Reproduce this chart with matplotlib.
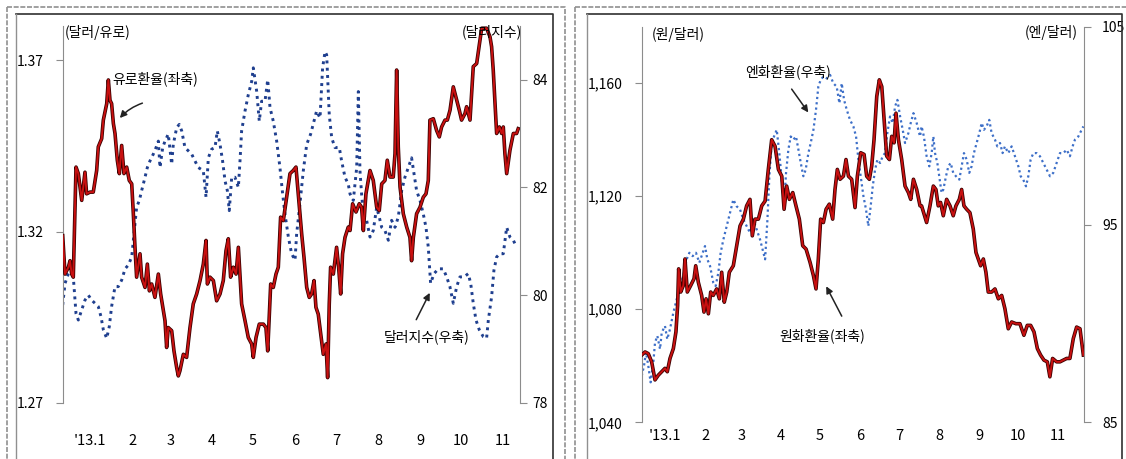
import matplotlib.pyplot as plt
import matplotlib.patheffects as pe
from datetime import date

plt.rcParams['font.family'] = ['Noto Sans CJK KR', 'DejaVu Sans']

# x축: 2013.1.1 기준 경과일
month_labels = ["'13.1", '2', '3', '4', '5', '6', '7', '8', '9', '10', '11']
month_days = [(date(2013, m, 1) - date(2013, 1, 1)).days for m in range(1, 12)]

# 유로환율 (달러/유로, 좌축)
eur_day = [-20.1, -18.4, -15.9, -14.7, -13.5, -12.3, -10.3, -8.6, -6.1, -3.7, -2.5, 0, 2.4, 4.9, 6.1, 8.6, 9.8,
           12.3, 13.5, 14.7, 15.9, 17.2, 18.4, 20.1, 21.6, 23.3, 25.0, 27.0, 28.9, 30.7, 31.9, 33.1, 34.3, 36.8,
           38.0, 40.5, 42.2, 43.7, 45.4, 47.8, 50.3, 52.0, 55.2, 56.4, 57.6, 60.1, 61.8, 63.8, 65.0, 66.2, 68.7,
           71.1, 73.6, 76.0, 78.5, 81.0, 83.4, 85.4, 86.4, 88.3, 90.8, 93.2, 95.7, 98.1, 100.1, 101.8, 103.5,
           105.5, 107.5, 109.2, 111.6, 114.1, 116.5, 119.0, 120.2, 122.2, 124.6, 127.6, 129.5, 130.8, 133.0,
           134.9, 136.9, 138.6, 140.3, 142.3, 144.7, 147.2, 149.6, 151.6, 153.3, 155.8, 157.5, 159.5, 161.4,
           163.1, 164.9, 166.3, 168.0, 169.8, 171.7, 173.7, 174.9, 176.1, 177.1, 179.1, 181.5, 183.0, 184.5,
           185.9, 187.7, 190.1, 191.4, 193.3, 195.8, 198.2, 199.9, 201.2, 203.1, 206.1, 208.5, 211.0, 212.9,
           214.7, 217.1, 218.8, 220.8, 223.2, 224.5, 225.7, 226.9, 228.2, 230.6, 233.1, 235.5, 236.7, 238.0,
           240.4, 242.9, 245.3, 247.3, 249.0, 250.2, 252.7, 255.1, 257.1, 258.8, 261.3, 263.0, 265.0, 267.4,
           269.9, 271.8, 273.5, 276.0, 277.2, 279.7, 280.9, 282.1, 284.6, 287.0, 288.3, 291.9, 294.4, 295.6,
           296.8, 298.1, 299.3, 301.3, 303.0, 304.2, 305.4, 306.7, 309.1, 311.6, 314.0, 315.2]
eur_val = [1.3188, 1.3076, 1.3096, 1.3115, 1.3076, 1.3067, 1.3388, 1.3369, 1.3291, 1.3373, 1.3310, 1.3315,
           1.3315, 1.3378, 1.3447, 1.3471, 1.3525, 1.3573, 1.3642, 1.3583, 1.3573, 1.3515, 1.3486, 1.3408,
           1.3369, 1.3451, 1.3369, 1.3388, 1.3349, 1.3339, 1.3252, 1.3154, 1.3067, 1.3135, 1.3067, 1.3037,
           1.3105, 1.3027, 1.3047, 1.3008, 1.3076, 1.3018, 1.2940, 1.2862, 1.2920, 1.2911, 1.2852, 1.2803,
           1.2779, 1.2794, 1.2842, 1.2833, 1.2920, 1.2989, 1.3018, 1.3057, 1.3105, 1.3174, 1.3047, 1.3067,
           1.3057, 1.2998, 1.3018, 1.3057, 1.3144, 1.3179, 1.3067, 1.3096, 1.3076, 1.3154, 1.2989, 1.2940,
           1.2891, 1.2872, 1.2833, 1.2891, 1.2930, 1.2930, 1.2920, 1.2852, 1.3047, 1.3037, 1.3076, 1.3096,
           1.3242, 1.3232, 1.3300, 1.3369, 1.3378, 1.3388, 1.3310, 1.3193, 1.3125, 1.3037, 1.3008, 1.3018,
           1.3057, 1.2979, 1.2959, 1.2901, 1.2842, 1.2872, 1.2774, 1.2989, 1.3096, 1.3076, 1.3154, 1.3096,
           1.3018, 1.3135, 1.3183, 1.3213, 1.3203, 1.3281, 1.3257, 1.3281, 1.3271, 1.3203, 1.3310, 1.3378,
           1.3349, 1.3271, 1.3261, 1.3339, 1.3349, 1.3408, 1.3359, 1.3359, 1.3427, 1.3671, 1.3447, 1.3330,
           1.3252, 1.3213, 1.3183, 1.3115, 1.3183, 1.3252, 1.3271, 1.3300, 1.3310, 1.3349, 1.3525, 1.3529,
           1.3495, 1.3476, 1.3505, 1.3525, 1.3525, 1.3554, 1.3622, 1.3583, 1.3554, 1.3525, 1.3544, 1.3564,
           1.3525, 1.3603, 1.3681, 1.3690, 1.3758, 1.3793, 1.3793, 1.3768, 1.3739, 1.3671, 1.3573, 1.3486,
           1.3505, 1.3486, 1.3505, 1.3427, 1.3369, 1.3437, 1.3486, 1.3486, 1.3500]

# 달러지수 (우축)
dxy_day = [-20.1, -18.4, -15.9, -13.5, -12.3, -10.3, -8.6, -6.1, -3.7, -1.2, 1.2, 3.7, 6.1, 8.1, 9.8, 12.3,
           14.2, 15.9, 18.4, 20.8, 23.3, 25.8, 28.2, 30.7, 32.4, 34.3, 36.3, 38.0, 40.5, 42.2, 44.1, 46.6,
           48.6, 50.3, 51.5, 53.5, 55.2, 57.6, 60.1, 61.3, 63.8, 65.7, 67.5, 69.9, 72.4, 74.8, 77.3, 79.7,
           83.4, 85.4, 87.1, 89.5, 92.0, 93.7, 95.7, 97.6, 99.4, 101.1, 102.5, 104.3, 106.7, 109.2, 110.4,
           111.6, 114.1, 116.5, 119.0, 120.2, 122.7, 124.6, 126.3, 128.8, 130.8, 132.5, 134.9, 137.4, 139.8,
           141.8, 143.5, 146.0, 148.4, 150.9, 152.1, 154.5, 157.0, 159.5, 162.4, 164.9, 166.8, 169.3, 171.2,
           173.0, 174.2, 176.1, 177.9, 180.3, 183.5, 185.2, 187.7, 190.1, 191.4, 193.8, 196.3, 197.5, 198.7,
           199.9, 201.2, 203.6, 206.1, 208.5, 211.0, 212.9, 214.7, 217.1, 219.6, 222.0, 224.5, 226.9, 229.4,
           231.8, 234.3, 236.7, 238.5, 240.4, 242.9, 245.3, 247.3, 249.0, 250.7, 253.2, 256.4, 260.0, 262.5,
           264.9, 267.4, 269.9, 272.3, 275.3, 278.4, 280.2, 282.1, 284.1, 286.5, 289.5, 291.9, 293.2, 295.6,
           297.3, 299.3, 301.7, 304.2, 306.7, 309.1, 311.6, 314.0]
dxy_val = [79.82, 80.22, 80.40, 80.49, 80.34, 79.66, 79.54, 79.73, 79.91, 80.00, 79.91, 79.85, 79.79, 79.60,
           79.36, 79.20, 79.42, 79.79, 80.16, 80.16, 80.28, 80.49, 80.56, 80.71, 81.14, 81.63, 81.76, 81.94,
           82.19, 82.37, 82.49, 82.62, 82.74, 82.86, 82.37, 82.74, 82.86, 82.99, 82.43, 82.80, 83.11, 83.17,
           83.05, 82.74, 82.68, 82.62, 82.49, 82.37, 82.31, 81.82, 82.55, 82.71, 82.74, 83.05, 82.80, 82.49,
           82.12, 81.94, 81.57, 82.19, 82.19, 82.00, 82.49, 83.05, 83.42, 83.72, 83.97, 84.22, 83.78, 83.23,
           83.60, 83.60, 84.00, 83.48, 83.23, 82.86, 82.37, 81.88, 81.51, 81.08, 80.77, 80.65, 81.14, 81.69,
           82.31, 82.80, 82.99, 83.23, 83.42, 83.29, 84.22, 84.52, 84.46, 83.35, 82.92, 82.74, 82.74, 82.49,
           82.19, 82.06, 81.88, 81.76, 82.37, 83.78, 82.31, 81.88, 81.51, 81.39, 81.08, 81.20, 81.63, 81.45,
           81.26, 81.20, 81.02, 81.39, 81.26, 81.45, 81.94, 82.19, 82.37, 82.55, 82.25, 81.94, 81.76, 81.51,
           81.26, 80.89, 80.22, 80.40, 80.49, 80.49, 80.34, 80.16, 79.85, 80.16, 80.34, 80.34, 80.40, 80.22,
           79.85, 79.54, 79.36, 79.23, 79.20, 79.54, 79.97, 80.46, 80.71, 80.77, 80.77, 81.26, 81.08, 81.02,
           80.89]

# 원화환율 (원/달러, 좌축)
krw_day = [-18.0, -15.4, -12.9, -10.3, -7.7, -5.1, -2.5, 0, 1.8, 3.9, 6.5, 8.5, 9.8, 10.6, 12.2, 14.2, 15.5,
           17.3, 19.9, 22.5, 23.8, 25.8, 28.4, 30.2, 31.8, 33.6, 35.4, 37.4, 40.0, 42.1, 43.9, 45.9, 47.8,
           49.8, 52.9, 55.5, 58.1, 60.7, 63.2, 65.8, 67.6, 69.7, 72.3, 74.9, 77.5, 80.0, 82.6, 85.2, 87.8,
           90.4, 92.2, 94.2, 96.3, 98.9, 101.4, 104.0, 106.6, 109.2, 112.3, 114.9, 116.9, 118.7, 120.5, 122.6,
           124.7, 127.2, 129.8, 131.6, 133.4, 135.5, 138.1, 140.1, 142.0, 144.5, 147.1, 148.9, 151.5, 154.1,
           156.1, 158.2, 160.0, 161.8, 163.9, 165.9, 167.8, 169.6, 171.6, 173.7, 175.5, 177.3, 178.8, 180.7,
           183.2, 185.8, 188.4, 190.2, 192.3, 194.8, 197.4, 198.6, 202.5, 205.1, 207.7, 209.7, 211.5, 213.3,
           215.4, 218.0, 220.6, 223.1, 225.2, 227.8, 229.6, 231.4, 233.5, 236.0, 238.6, 240.7, 242.5, 244.3,
           246.4, 248.4, 250.2, 252.8, 255.4, 258.0, 260.6, 263.1, 265.7, 268.3, 271.6, 274.7, 277.8, 280.4,
           283.0, 285.6, 288.2, 290.7, 293.3, 295.9, 297.9, 300.0, 303.1, 305.7, 308.3, 310.9, 313.4, 316.0,
           318.6, 321.2, 323.8]
krw_val = [1063.8, 1064.9, 1064.3, 1061.4, 1055.0, 1056.7, 1057.9, 1059.1, 1057.9, 1062.6, 1066.1, 1072.0,
           1081.4, 1094.3, 1086.1, 1088.4, 1097.8, 1086.1, 1088.4, 1090.8, 1095.4, 1089.6, 1084.9, 1079.0,
           1083.7, 1078.4, 1086.1, 1084.9, 1087.2, 1083.7, 1093.1, 1082.5, 1086.1, 1093.1, 1095.4, 1102.5,
           1109.5, 1111.9, 1116.6, 1118.9, 1106.0, 1111.9, 1111.9, 1116.6, 1118.3, 1129.5, 1140.0, 1137.7,
           1129.5, 1127.1, 1115.4, 1123.6, 1118.9, 1121.3, 1116.6, 1111.9, 1102.5, 1101.3, 1096.6, 1091.9,
           1087.2, 1097.8, 1111.9, 1110.7, 1115.4, 1117.2, 1111.9, 1122.4, 1129.5, 1126.0, 1127.1, 1133.0,
           1127.1, 1126.0, 1116.0, 1127.1, 1135.4, 1134.8, 1127.1, 1126.0, 1130.7, 1140.0, 1155.3, 1161.2,
           1158.8, 1147.1, 1134.2, 1133.0, 1141.2, 1138.9, 1149.4, 1140.0, 1133.0, 1123.6, 1121.3, 1118.9,
           1126.0, 1122.4, 1116.6, 1116.6, 1110.7, 1116.6, 1123.6, 1122.4, 1116.6, 1117.8, 1113.1, 1118.9,
           1116.6, 1113.1, 1116.6, 1118.9, 1122.4, 1116.6, 1115.4, 1114.2, 1108.4, 1100.1, 1097.8, 1095.4,
           1097.8, 1093.1, 1086.1, 1086.1, 1087.2, 1083.7, 1084.9, 1080.2, 1073.1, 1075.5, 1074.9, 1074.9,
           1070.8, 1074.3, 1074.3, 1072.0, 1066.1, 1063.8, 1062.0, 1061.4, 1056.1, 1062.6, 1061.4, 1061.4,
           1062.0, 1062.6, 1062.6, 1069.6, 1073.7, 1073.1, 1063.8]

# 엔화환율 (엔/달러, 우축)
jpy_day = [-18.0, -16.2, -14.7, -12.9, -11.1, -9.0, -7.7, -5.9, -3.8, -2.5, 0, 1.8, 3.9, 6.5, 9.1, 11.6,
           14.2, 16.8, 18.9, 21.4, 24.0, 26.6, 29.2, 31.0, 32.8, 34.9, 37.4, 39.2, 41.3, 43.1, 45.2, 47.8,
           50.3, 52.9, 55.5, 58.1, 60.7, 63.2, 65.8, 68.4, 71.0, 73.6, 76.2, 77.5, 79.3, 80.8, 82.6, 84.4,
           86.5, 88.5, 90.4, 92.2, 93.7, 95.5, 97.3, 99.4, 101.4, 103.3, 105.1, 107.1, 108.9, 111.0, 112.8,
           114.9, 116.9, 118.7, 120.5, 122.6, 125.2, 127.8, 130.3, 132.9, 135.0, 136.8, 138.6, 140.7, 143.2,
           145.8, 147.9, 149.7, 151.5, 153.6, 155.6, 157.4, 159.2, 160.8, 162.6, 164.4, 166.5, 168.5, 170.3,
           172.1, 174.2, 176.3, 178.1, 179.9, 182.0, 184.0, 185.8, 188.4, 190.2, 192.3, 194.8, 197.4, 198.6,
           200.4, 202.5, 204.6, 206.4, 207.7, 209.0, 210.8, 212.3, 214.1, 215.4, 217.5, 219.3, 221.1, 223.1,
           225.2, 227.8, 229.6, 231.4, 233.5, 235.5, 237.3, 239.1, 241.2, 243.3, 245.1, 246.9, 248.9, 251.0,
           252.8, 255.4, 257.2, 259.3, 261.3, 263.1, 265.7, 268.3, 270.9, 273.5, 275.3, 277.3, 279.4, 281.2,
           283.0, 285.1, 287.6, 290.2, 292.8, 295.4, 298.0, 300.5, 303.1, 305.7, 308.3, 310.9, 313.4, 315.5,
           317.3, 319.9, 322.5, 323.8]
jpy_val = [87.35, 87.86, 88.53, 87.86, 87.02, 88.03, 89.03, 89.37, 88.70, 89.54, 89.87, 89.20, 89.71, 90.55,
           91.22, 91.89, 92.39, 93.24, 93.57, 93.40, 93.57, 93.07, 93.57, 93.91, 93.24, 92.90, 92.06, 91.89,
           92.56, 93.57, 94.24, 94.92, 95.59, 96.26, 95.92, 95.76, 95.25, 94.92, 94.58, 95.25, 94.75, 94.24,
           93.57, 93.24, 95.25, 97.44, 99.12, 99.45, 99.79, 98.61, 97.27, 95.92, 97.61, 98.78, 99.45, 99.29,
           99.45, 98.78, 98.11, 97.44, 97.77, 98.61, 99.12, 99.79, 100.80, 101.97, 102.31, 102.48, 102.39,
           102.56, 102.14, 101.97, 101.13, 102.14, 101.30, 100.80, 100.29, 99.96, 99.45, 98.28, 97.44, 96.43,
           95.76, 94.92, 95.92, 96.93, 97.77, 98.28, 98.11, 98.45, 98.61, 99.62, 100.46, 100.13, 100.97,
           101.30, 100.46, 99.79, 99.12, 99.62, 100.13, 100.63, 100.13, 99.45, 99.96, 99.45, 98.45, 97.94,
           98.61, 99.45, 98.61, 98.11, 97.44, 96.60, 96.76, 97.44, 97.94, 98.11, 97.61, 97.44, 97.27, 97.94,
           98.61, 98.28, 97.61, 97.94, 98.61, 99.12, 99.62, 100.13, 99.79, 99.96, 100.29, 99.62, 99.29, 98.95,
           99.12, 98.61, 98.95, 98.61, 98.95, 98.45, 97.94, 97.44, 97.27, 96.93, 97.44, 98.28, 98.61, 98.61,
           98.45, 98.11, 97.77, 97.44, 97.61, 98.11, 98.61, 98.61, 98.78, 98.45, 98.95, 99.29, 99.45, 99.79,
           99.96]

W, H = 1126, 459
fig = plt.figure(figsize=(W / 100, H / 100), dpi=100)


def box(x0, y_top, x1, y_bot):
    # 픽셀 좌표 -> figure 좌표
    return [x0 / W, 1 - y_bot / H, (x1 - x0) / W, (y_bot - y_top) / H]


def px_line(xs, ys, **kw):
    fig.add_artist(plt.Line2D([x / W for x in xs], [1 - y / H for y in ys], transform=fig.transFigure, **kw))


# 테두리
px_line([7, 565, 565], [7, 7, 470], color='#909090', lw=1.2, ls=(0, (3, 1)))
px_line([7, 7], [7, 470], color='#909090', lw=1.2, ls=(0, (3, 1)))
px_line([16, 553, 553], [14, 14, 470], color='#303030', lw=1.2)
px_line([16, 16], [14, 470], color='#909090', lw=1.0)
px_line([575, 1126], [7, 7], color='#909090', lw=1.2, ls=(0, (3, 1)))
px_line([575, 575], [7, 470], color='#909090', lw=1.2, ls=(0, (3, 1)))
px_line([587, 1122, 1122], [14, 14, 470], color='#303030', lw=1.2)
px_line([587, 587], [14, 470], color='#909090', lw=1.0)

red_fx = [pe.Stroke(linewidth=2.6, foreground='#3a0000'), pe.Normal()]
grey = '#8c8c8c'


def style(ax, twin, pad_x):
    for s in ['top', 'bottom', 'right']:
        ax.spines[s].set_visible(False)
    ax.spines['left'].set_color(grey)
    for s in ['top', 'bottom', 'left']:
        twin.spines[s].set_visible(False)
    twin.spines['right'].set_color(grey)
    ax.tick_params(axis='y', direction='out', length=5, color=grey, labelsize=10, pad=9)
    twin.tick_params(axis='y', direction='out', length=5, color=grey, labelsize=10, pad=4)
    ax.set_xticks(month_days)
    ax.set_xticklabels(month_labels, fontsize=10.5)
    ax.tick_params(axis='x', length=0, pad=pad_x)
    ax.patch.set_visible(False)


# ---- 왼쪽: 유로환율 / 달러지수
ax1 = fig.add_axes(box(62.7, 25.8, 520, 403))
ax2 = ax1.twinx()
ax2.plot(dxy_day, dxy_val, color='#1f3f8f', lw=2.1, ls=(0, (1, 1.5)))
ax1.plot(eur_day, eur_val, color='#c81010', lw=1.4, path_effects=red_fx, zorder=3)
ax1.set_zorder(ax2.get_zorder() + 1)
ax1.set_xlim(-20.1, 316.5)
ax1.set_ylim(1.27, 1.38)
ax1.set_yticks([1.27, 1.32, 1.37])
ax1.set_yticklabels(['1.27', '1.32', '1.37'])
ax2.set_ylim(78, 85)
ax2.set_yticks([78, 80, 82, 84])
style(ax1, ax2, 22)

fig.text(65 / W, 1 - 32 / H, '(달러/유로)', fontsize=10, va='center', ha='left')
fig.text(522 / W, 1 - 32 / H, '(달러지수)', fontsize=10, va='center', ha='right')
ax1.text(47.8, 1.3647, '유로환율(좌축)', fontsize=10, ha='center', va='center')
ax1.annotate('', xy=(20.6, 1.3525), xytext=(40.5, 1.3577),
             arrowprops=dict(arrowstyle='-|>', color='#222222', lw=1.1, connectionstyle='arc3,rad=0.15'))
ax2.text(248, 79.23, '달러지수(우축)', fontsize=10, ha='center', va='center')
ax2.annotate('', xy=(251, 80.09), xytext=(239.2, 79.50),
             arrowprops=dict(arrowstyle='-|>', color='#222222', lw=1.1))

# ---- 오른쪽: 원화환율 / 엔화환율
ax3 = fig.add_axes(box(641.7, 26.7, 1084, 422.3))
ax4 = ax3.twinx()
ax4.plot(jpy_day, jpy_val, color='#3d6fc8', lw=1.6, ls=(0, (1, 1.4)))
ax3.plot(krw_day, krw_val, color='#c81010', lw=1.4, path_effects=red_fx, zorder=3)
ax3.set_zorder(ax4.get_zorder() + 1)
ax3.set_xlim(-18.0, 324.3)
ax3.set_ylim(1040, 1180)
ax3.set_yticks([1040, 1080, 1120, 1160])
ax3.set_yticklabels(['1,040', '1,080', '1,120', '1,160'])
ax4.set_ylim(85, 105)
ax4.set_yticks([85, 95, 105])
style(ax3, ax4, 5)
ax4.tick_params(axis='y', pad=8)

fig.text(652 / W, 1 - 35 / H, '(원/달러)', fontsize=10, va='center', ha='left')
fig.text(1078 / W, 1 - 33 / H, '(엔/달러)', fontsize=10, va='center', ha='right')
ax4.text(95.2, 102.71, '엔화환율(우축)', fontsize=10, ha='center', va='center')
ax4.annotate('', xy=(112.2, 100.55), xytext=(96.8, 101.96),
             arrowprops=dict(arrowstyle='-|>', color='#222222', lw=1.1))
ax3.text(121.5, 1070.7, '원화환율(좌축)', fontsize=10, ha='center', va='center')
ax3.annotate('', xy=(123.8, 1089.0), xytext=(137.8, 1076.7),
             arrowprops=dict(arrowstyle='-|>', color='#222222', lw=1.1))

fig.savefig('out.png', dpi=100)
